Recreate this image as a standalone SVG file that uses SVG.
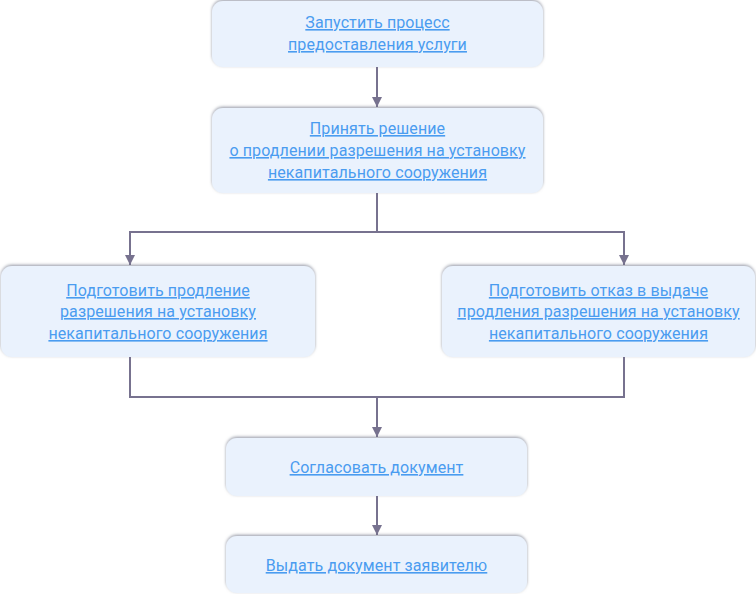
<svg xmlns="http://www.w3.org/2000/svg" width="756" height="594" viewBox="0 0 756 594">
<defs>
<filter id="sh" x="-5%" y="-20%" width="110%" height="140%">
<feDropShadow dx="0" dy="-1.2" stdDeviation="1.5" flood-color="#6f7487" flood-opacity="0.7"/>
</filter>
<marker id="ah" markerWidth="10" markerHeight="10" refX="10" refY="5" orient="auto" markerUnits="userSpaceOnUse">
<path d="M0,0 L10,5 L0,10 Z" fill="#77728f"/>
</marker>
<style>
.box{fill:#eaf2fd;filter:url(#sh);}
.t{font-family:Roboto,"Noto Sans",sans-serif;font-size:16px;letter-spacing:0.1px;fill:#4a9cf0;text-anchor:middle;text-decoration:underline;}
.c{fill:none;stroke:#77728f;stroke-width:2;}
</style>
</defs>
<rect width="756" height="594" fill="#ffffff"/>
<g id="connectors">
<path class="c" d="M377,67 V107" marker-end="url(#ah)"/>
<path class="c" d="M377,193 V232"/>
<path class="c" d="M130,232 H624"/>
<path class="c" d="M130,231 V265" marker-end="url(#ah)"/>
<path class="c" d="M624,231 V265" marker-end="url(#ah)"/>
<path class="c" d="M130,357 V397 H624 V357"/>
<path class="c" d="M377,397 V437" marker-end="url(#ah)"/>
<path class="c" d="M377,496 V535" marker-end="url(#ah)"/>
</g>
<g id="n1">
<rect class="box" x="212" y="1" width="331" height="66" rx="11"/>
<text class="t" x="377.5" y="28">Запустить процесс</text>
<text class="t" x="377.5" y="50">предоставления услуги</text>
</g>
<g id="n2">
<rect class="box" x="212" y="108" width="331" height="85" rx="11"/>
<text class="t" x="377.5" y="134">Принять решение</text>
<text class="t" x="377.5" y="156">о продлении разрешения на установку</text>
<text class="t" x="377.5" y="178">некапитального сооружения</text>
</g>
<g id="n3">
<rect class="box" x="1" y="266" width="314" height="91" rx="11"/>
<text class="t" x="158" y="296">Подготовить продление</text>
<text class="t" x="158" y="317">разрешения на установку</text>
<text class="t" x="158" y="339">некапитального сооружения</text>
</g>
<g id="n4">
<rect class="box" x="442" y="266" width="313" height="91" rx="11"/>
<text class="t" x="598.5" y="296">Подготовить отказ в выдаче</text>
<text class="t" x="598.5" y="317">продления разрешения на установку</text>
<text class="t" x="598.5" y="339">некапитального сооружения</text>
</g>
<g id="n5">
<rect class="box" x="226" y="438" width="301" height="58" rx="11"/>
<text class="t" x="376.5" y="473">Согласовать документ</text>
</g>
<g id="n6">
<rect class="box" x="226" y="536" width="301" height="57" rx="11"/>
<text class="t" x="376.5" y="571">Выдать документ заявителю</text>
</g>
</svg>
